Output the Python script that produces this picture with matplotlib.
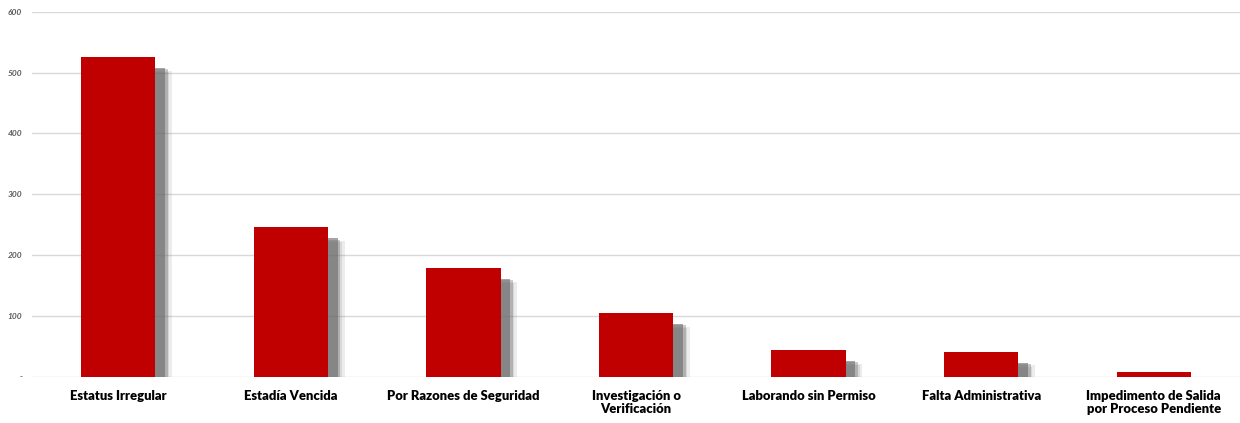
import matplotlib
matplotlib.use("Agg")
import matplotlib.pyplot as plt
import matplotlib.patheffects as pe

categories = ["Estatus Irregular", "Estadía Vencida", "Por Razones de Seguridad",
              "Investigación o\nVerificación", "Laborando sin Permiso",
              "Falta Administrativa", "Impedimento de Salida\npor Proceso Pendiente"]
values = [526, 246, 179, 105, 44, 41, 8]
yticks = [0, 100, 200, 300, 400, 500, 600]
ytick_labels = ["-", "100", "200", "300", "400", "500", "600"]

fig = plt.figure(figsize=(12.4, 4.23), dpi=100)
ax = fig.add_axes([32/1240, 1-376.5/423, (1240-32)/1240, (376.5-12)/423])

x = list(range(len(categories)))
bars = ax.bar(x, values, width=0.43, color="#C00000", zorder=3)
effects = []
for dx, dy, a in [(12, -10, 0.12), (10, -11, 0.15), (9, -9, 0.35), (7, -8, 0.6)]:
    effects.append(pe.SimplePatchShadow(offset=(dx, dy), shadow_rgbFace="#6a6a6a", alpha=a))
effects.append(pe.Normal())
for b in bars:
    b.set_path_effects(effects)

ax.set_xlim(-0.5, len(categories) - 0.5)
ax.set_ylim(0, 600)
ax.set_yticks(yticks)
ax.set_yticklabels(ytick_labels, fontsize=6, style="italic", fontweight="bold",
                   color="#595959", family="Lato")
ax.yaxis.grid(True, color="#d9d9d9", linewidth=1, zorder=0)
ax.set_axisbelow(True)
ax.tick_params(axis="y", length=0, pad=7)
ax.tick_params(axis="x", length=0, pad=10)
ax.set_xticks(x)
ax.set_xticklabels(categories, fontsize=9.4, fontweight="heavy", family="Lato",
                   color="#000000", linespacing=1.1)
for s in ax.spines.values():
    s.set_visible(False)

fig.savefig("out.png", dpi=100)
